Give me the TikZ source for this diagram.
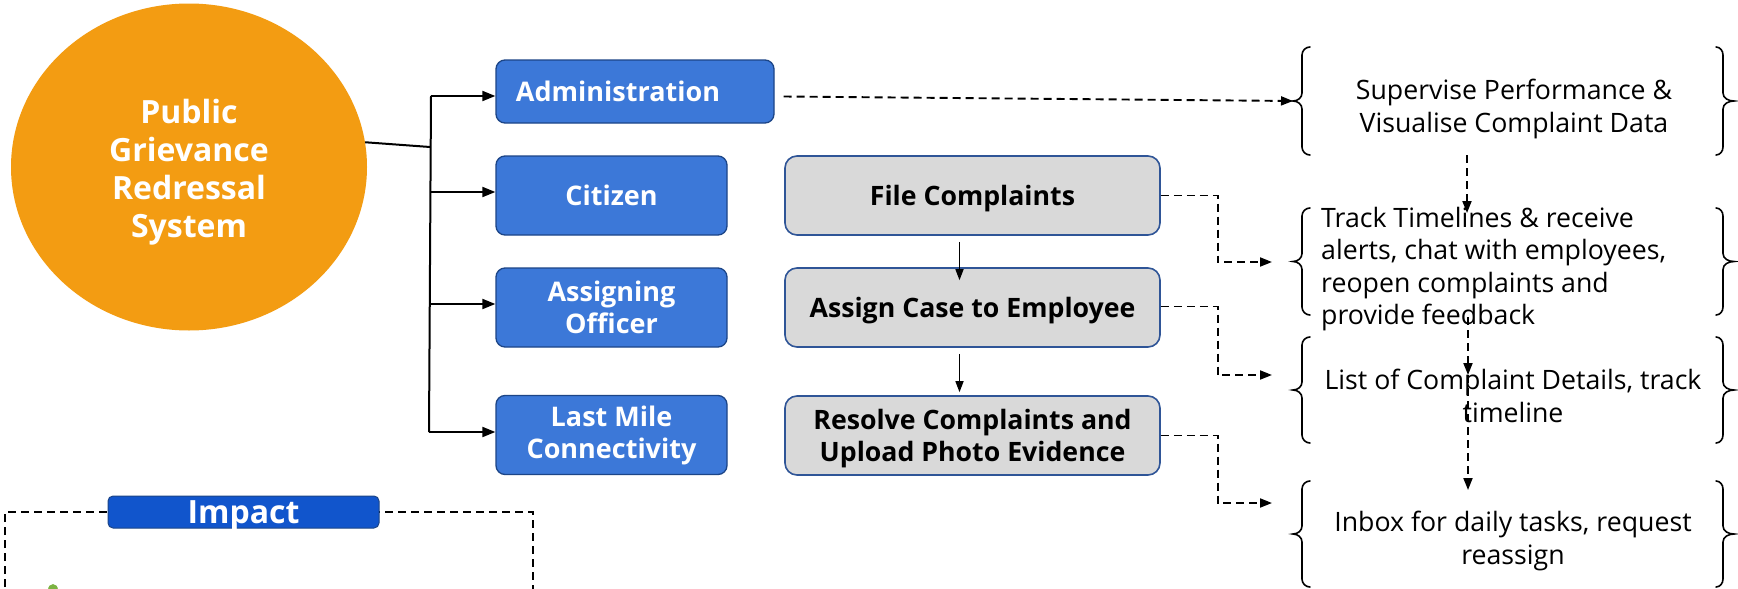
\documentclass[tikz,border=0pt]{standalone}
\usepackage{fontspec}
\setmainfont{Open Sans}
\usetikzlibrary{arrows.meta,shapes.geometric,calc}
\definecolor{orng}{HTML}{F39C12}
\definecolor{rolefill}{HTML}{3C78D8}
\definecolor{roleedge}{HTML}{1C4587}
\definecolor{stepfill}{HTML}{D9D9D9}
\definecolor{stepedge}{HTML}{2F5597}
\definecolor{impactblue}{HTML}{1155CC}
\definecolor{leaf}{HTML}{7CB342}
\newcommand\bracketL[3]{%
  \draw[bracepen] (#1+8,#2) to[out=180,in=90] (#1,#2+8) -- (#1,{(#2+#3)/2-8})
    to[out=-90,in=0] (#1-9,{(#2+#3)/2}) to[out=0,in=90] (#1,{(#2+#3)/2+8})
    -- (#1,#3-8) to[out=-90,in=180] (#1+8,#3);}
\newcommand\bracketR[3]{%
  \draw[bracepen] (#1-7,#2) to[out=0,in=90] (#1,#2+8) -- (#1,{(#2+#3)/2-8})
    to[out=-90,in=180] (#1+11,{(#2+#3)/2}) to[out=180,in=90] (#1,{(#2+#3)/2+8})
    -- (#1,#3-8) to[out=-90,in=0] (#1-7,#3);}
\begin{document}
\begin{tikzpicture}[x=1pt,y=-1pt,
  rolebox/.style={draw=roleedge, line width=1.3pt, fill=rolefill, rounded corners=9pt,
    inner sep=0pt, minimum width=231pt, minimum height=79pt},
  roletext/.style={text=white, font=\bfseries\fontsize{27}{32}\selectfont, align=center, inner sep=0pt},
  stepbox/.style={draw=stepedge, line width=1.6pt, fill=stepfill, rounded corners=12pt,
    minimum width=375pt, minimum height=79pt, inner sep=0pt},
  steptext/.style={font=\bfseries\fontsize{26.7}{32}\selectfont, align=center, inner sep=0pt},
  desc/.style={font=\fontsize{26.7}{32.5}\selectfont, inner sep=0pt, align=center},
  dasharrow/.style={dash pattern=on 8pt off 5pt, line width=1.9pt, -{Triangle[length=12pt,width=9pt]}},
  solidarrow/.style={line width=2pt, -{Triangle[length=13pt,width=10pt]}},
  thinarrow/.style={line width=1.5pt, -{Triangle[length=11pt,width=8pt]}},
  bracepen/.style={line width=1.6pt, line cap=round}]
\useasboundingbox (0,0) rectangle (1738,589);
\fill[white] (0,0) rectangle (1738,589);

% main ellipse
\node[ellipse, fill=orng, minimum width=356pt, minimum height=327pt, inner sep=0pt]
  (sys) at (189,167) {};
\node[text=white, font=\bfseries\fontsize{32}{38}\selectfont, align=center, inner sep=0pt]
  (syst) at (189,172) {Public\\Grievance\\Redressal\\System};

% role boxes
\node[rolebox, minimum width=278pt, minimum height=63pt] (adm) at (635,91.5) {};
\node[roletext] (admt) at (618,91.5) {Administration};
\node[rolebox] (cit) at (611.5,195.5) {};
\node[roletext] (citt) at (cit) {Citizen};
\node[rolebox] (aso) at (611.5,307.5) {};
\node[roletext] (asot) at (aso) {Assigning\\Officer};
\node[rolebox] (lmc) at (611.5,435) {};
\node[roletext] (lmct) at (lmc) {Last Mile\\Connectivity};

% trunk
\coordinate (tc) at (430,147);
\coordinate (t1) at (431,96);
\coordinate (t2) at (430.5,192);
\coordinate (t3) at (430,304);
\coordinate (t4) at (429,432);
\draw[line width=2pt] (sys.8) -- (tc);
\draw[line width=2pt] (t1) -- (t4);
\draw[solidarrow] (t1) -- (t1 -| adm.west);
\draw[solidarrow] (t2) -- (t2 -| cit.west);
\draw[solidarrow] (t3) -- (t3 -| aso.west);
\draw[solidarrow] (t4) -- (t4 -| lmc.west);

% step boxes
\node[stepbox] (file) at (972.5,195.5) {};
\node[steptext] (filet) at (972.5,199) {File Complaints};
\node[stepbox] (assign) at (972.5,307.5) {};
\node[steptext] (assignt) at (972.5,311) {Assign Case to Employee};
\node[stepbox] (resolve) at (972.5,435.5) {};
\node[steptext] (resolvet) at (972.5,438.5) {Resolve Complaints and\\Upload Photo Evidence};
\draw[thinarrow] ([xshift=-13pt,yshift=-6pt]file.south) -- ([xshift=-13pt,yshift=-13pt]assign.north);
\draw[thinarrow] ([xshift=-13pt,yshift=-6pt]assign.south) -- ([xshift=-13pt,yshift=3pt]resolve.north);

% braces
\bracketL{1302}{47}{155}
\bracketR{1723}{47}{155}
\bracketL{1302}{208}{315}
\bracketR{1723}{208}{315}
\bracketL{1302}{337}{443}
\bracketR{1723}{337}{443}
\bracketL{1302}{481}{587}
\bracketR{1723}{481}{587}

% descriptions
\node[desc] (sup) at (1514,109) {Supervise Performance \&\\Visualise Complaint Data};
\node[desc, anchor=west, align=left] (track) at (1321,269) {Track Timelines \& receive\\alerts, chat with employees,\\reopen complaints and\\provide feedback};
\node[desc] (list) at (1513,396) {List of Complaint Details, track\\timeline};
\node[desc] (inbox) at (1513,541) {Inbox for daily tasks, request\\reassign};

% arrow targets
\coordinate (b1) at (1293,101);
\coordinate (b2) at (1272,262);
\coordinate (b3) at (1272,375);
\coordinate (b4) at (1272,503);

% dashed connectors
\draw[dasharrow] ([xshift=9pt,yshift=-5pt]adm.east) -- (b1);
\draw[dasharrow] (file.east) -- ++(57,0) |- (b2);
\draw[dasharrow] ([yshift=1pt]assign.east) -- ++(57,0) |- (b3);
\draw[dasharrow] (resolve.east) -- ++(57,0) |- (b4);

\coordinate (v1) at (1467,155);
\coordinate (v1e) at (1467,213);
\coordinate (v2) at (1468,317);
\coordinate (v2e) at (1468,375);
\coordinate (v3e) at (1468,490);
\draw[dasharrow] (v1) -- (v1e);
\draw[dasharrow] (v2) -- (v2e);
\draw[dasharrow] (v2e) -- (v3e);

% impact
\draw[line width=1.6pt, dash pattern=on 8pt off 5pt] (5,600) -- (5,512) -- (533,512) -- (533,600);
\node[draw=roleedge, line width=1pt, fill=impactblue, rounded corners=5pt, minimum width=271pt,
  minimum height=32pt, inner sep=0pt] (impact) at (243.5,512) {};
\node[text=white, font=\bfseries\fontsize{32}{32}\selectfont, inner sep=0pt] (impactt) at (243.5,516) {Impact};
\fill[leaf] (53,590) ellipse (5pt and 6pt);
\end{tikzpicture}
\end{document}
